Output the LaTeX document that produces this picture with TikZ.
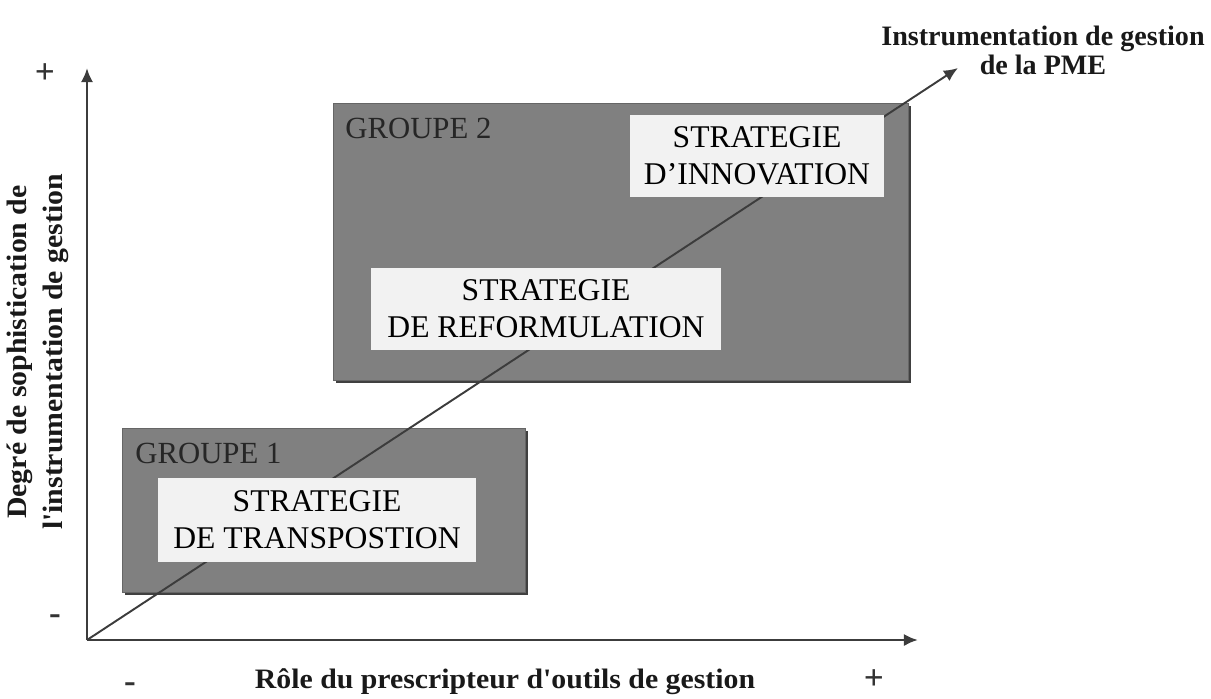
\documentclass[tikz,border=0pt]{standalone}
\usepackage{fontspec}
\setmainfont{Liberation Serif}
\newfontfamily\axisfont[FakeStretch=1.06]{Liberation Serif}
\usetikzlibrary{arrows.meta}
\usetikzlibrary{positioning}
\usetikzlibrary{shadows}

\definecolor{boxgray}{HTML}{808080}
\definecolor{stratwhite}{HTML}{F2F2F2}
\definecolor{axisgray}{HTML}{3C3C3C}

\begin{document}
\begin{tikzpicture}
    [x=0.02cm,y=-0.02cm,
    groupe/.style={rectangle,draw=black!60,fill=boxgray,anchor=north west,
      inner sep=0pt,drop shadow={shadow xshift=1.5pt,shadow yshift=-1.5pt,
      opacity=1,fill=black!75}},
    strategie/.style={rectangle,fill=stratwhite,inner sep=0pt,align=center,
      font=\fontsize{18}{21}\selectfont},
    grouplabel/.style={text=black!85,font=\fontsize{17.5}{19}\selectfont,
      inner sep=0pt,anchor=north west},
    axis/.style={draw=axisgray,line width=1.6pt,-{Latex[length=8pt,width=7pt]}},
    axislabel/.style={font=\axisfont\bfseries\fontsize{16}{20.5}\selectfont,
      text=black!90,align=center,inner sep=0pt},
    sign/.style={font=\bfseries\fontsize{20}{20}\selectfont,text=black!80,inner sep=0pt}]

    \useasboundingbox (0,0) rectangle (1211,698);

    \coordinate (origin) at (87,640);
    \coordinate (ytip)   at (87,68);
    \coordinate (xtip)   at (918,640);
    \coordinate (dtip)   at (958,68);

    \node[groupe, minimum width=11.5cm, minimum height=5.54cm] (groupe2) at (333,103) {};
    \node[groupe, minimum width=8.06cm, minimum height=3.28cm] (groupe1) at (122,428) {};

    \node[grouplabel] (label2) [below right=3mm and 2.4mm of groupe2.north west] {GROUPE 2};
    \node[grouplabel] (label1) [below right=3mm and 2.6mm of groupe1.north west] {GROUPE 1};

    \draw[axis] (origin) -- (ytip);
    \draw[axis] (origin) -- (xtip);
    \draw[draw=axisgray,line width=1.1pt,-{Latex[length=8pt,width=7pt]}] (origin) -- (dtip);

    \node[strategie, minimum width=5.1cm, minimum height=1.64cm]  (innovation)    at (757,156) {STRATEGIE\\D'INNOVATION};
    \node[strategie, minimum width=7.02cm, minimum height=1.64cm] (reformulation) at (546,309) {STRATEGIE\\DE REFORMULATION};
    \node[strategie, minimum width=6.38cm, minimum height=1.68cm] (transposition) at (317,520) {STRATEGIE\\DE TRANSPOSTION};

    \node[axislabel] (ytitle) [rotate=90] at (38,352) {Degré de sophistication de\\l'instrumentation de gestion};
    \node[axislabel] (xtitle) at (505,682) {Rôle du prescripteur d'outils de gestion};
    \node[axislabel, font=\bfseries\fontsize{16}{16.5}\selectfont] (dtitle) at (1043,50) {Instrumentation de gestion\\de la PME};

    \node[sign] (yplus)  at (45,74)   {+};
    \node[sign] (yminus) at (55,620)  {-};
    \node[sign] (xminus) at (130,688) {-};
    \node[sign] (xplus)  at (874,680) {+};

  \end{tikzpicture}
\end{document}
